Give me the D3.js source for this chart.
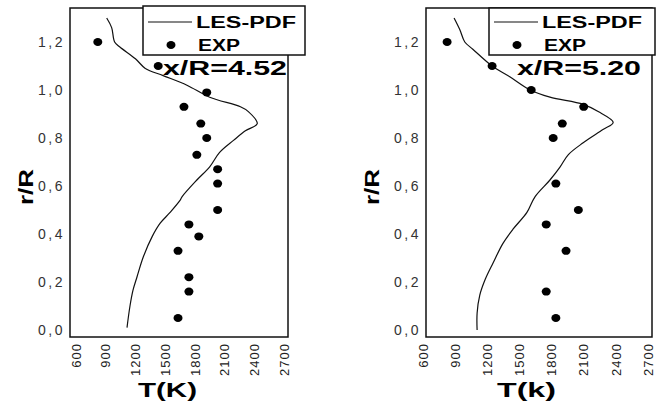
<!DOCTYPE html>
<html>
<head>
<meta charset="utf-8">
<script src="https://cdnjs.cloudflare.com/ajax/libs/d3/7.8.5/d3.min.js"></script>
<style>
    body { margin: 0; background: #fff; }
    svg { display: block; }
    text { font-family: "Liberation Sans", Arial, sans-serif; }
</style>
</head>
<body>
<div id="chart"></div>
<script>

// x/R = 4.52 panel
let les452R = [1.30, 1.26, 1.20, 1.18, 1.13, 1.09, 1.06, 1.02, 0.97, 0.93, 0.91, 0.86, 0.83, 0.79, 0.74, 0.68, 0.625, 0.555, 0.54, 0.49, 0.445, 0.39, 0.305, 0.22, 0.165, 0.10, 0.01];
let les452T = [910, 960, 990, 1040, 1200, 1300, 1480, 1720, 1950, 2260, 2340, 2430, 2310, 2190, 2050, 1950, 1820, 1670, 1650, 1550, 1450, 1370, 1280, 1215, 1175, 1145, 1115];
let exp452R = [1.20, 1.10, 0.99, 0.93, 0.86, 0.80, 0.73, 0.67, 0.61, 0.50, 0.44, 0.39, 0.33, 0.22, 0.16, 0.05];
let exp452T = [820, 1430, 1920, 1690, 1860, 1920, 1820, 2030, 2030, 2030, 1740, 1840, 1630, 1740, 1740, 1630];

// x/R = 5.20 panel
let les520R = [1.30, 1.25, 1.20, 1.17, 1.10, 1.055, 1.00, 0.97, 0.94, 0.91, 0.865, 0.835, 0.78, 0.73, 0.68, 0.625, 0.555, 0.49, 0.42, 0.36, 0.28, 0.21, 0.145, 0.07, 0.00];
let les520T = [890, 945, 990, 1065, 1245, 1410, 1600, 1785, 2095, 2235, 2375, 2280, 2095, 1955, 1880, 1785, 1645, 1570, 1440, 1345, 1255, 1180, 1130, 1105, 1105];
let exp520R = [1.20, 1.10, 1.00, 0.93, 0.86, 0.80, 0.61, 0.50, 0.44, 0.33, 0.16, 0.05];
let exp520T = [825, 1245, 1610, 2100, 1900, 1815, 1840, 2050, 1750, 1935, 1750, 1840];

// axis ticks
let tTicks = [600, 900, 1200, 1500, 1800, 2100, 2400, 2700];
let rTicks = [0.0, 0.2, 0.4, 0.6, 0.8, 1.0, 1.2];

let svg = d3.select("#chart").append("svg")
    .attr("width", 661)
    .attr("height", 408);

function drawPanel(p) {
    let g = svg.append("g");

    let x = d3.scaleLinear().domain([600, 2700]).range([p.x0, p.x1]);
    let y = d3.scaleLinear().domain([0, 1.2]).range([330, 42]);

    // frame
    g.append("rect")
        .attr("x", p.fl).attr("y", 8)
        .attr("width", p.fr - p.fl).attr("height", 329)
        .attr("fill", "none")
        .attr("stroke", "#111")
        .attr("stroke-width", 1.5);

    // y tick labels
    g.selectAll(".ylab")
        .data(rTicks)
        .enter().append("text")
        .attr("class", "ylab")
        .attr("x", p.fl - 5)
        .attr("y", d => y(d))
        .attr("dy", "0.36em")
        .attr("text-anchor", "end")
        .attr("font-size", 14)
        .attr("letter-spacing", 2.5)
        .attr("fill", "#333")
        .text(d => d3.format(".1f")(d).replace(".", ","));

    // x tick labels (rotated)
    g.selectAll(".xlab")
        .data(tTicks)
        .enter().append("text")
        .attr("class", "xlab")
        .attr("transform", d => "translate(" + x(d) + ",343) rotate(-90)")
        .attr("dy", "0.36em")
        .attr("text-anchor", "end")
        .attr("font-size", 13)
        .attr("letter-spacing", 1)
        .attr("fill", "#222")
        .text(d => d);

    // axis titles
    g.append("text")
        .attr("x", p.tx).attr("y", 397)
        .attr("font-size", 21).attr("font-weight", "bold")
        .attr("textLength", 59).attr("lengthAdjust", "spacingAndGlyphs")
        .text(p.xTitle);

    g.append("text")
        .attr("transform", "translate(" + p.rx + ",187) rotate(-90)")
        .attr("text-anchor", "middle")
        .attr("dy", "0.36em")
        .attr("font-size", 20).attr("font-weight", "bold")
        .attr("textLength", 36).attr("lengthAdjust", "spacingAndGlyphs")
        .text("r/R");

    // LES-PDF curve
    let line = d3.line()
        .x((d, i) => x(p.lesT[i]))
        .y(d => y(d))
        .curve(d3.curveCatmullRom.alpha(0.5));

    g.append("path")
        .datum(p.lesR)
        .attr("d", line)
        .attr("fill", "none")
        .attr("stroke", "#111")
        .attr("stroke-width", 1.2);

    // EXP points
    g.selectAll(".dot")
        .data(p.expR)
        .enter().append("ellipse")
        .attr("class", "dot")
        .attr("cx", (d, i) => x(p.expT[i]))
        .attr("cy", d => y(d))
        .attr("rx", 4.5)
        .attr("ry", 4)
        .attr("fill", "#000");

    // legend
    let lg = g.append("g").attr("transform", "translate(" + p.lx + ",0)");
    lg.append("rect")
        .attr("x", 0).attr("y", p.ly)
        .attr("width", p.lw).attr("height", 55 - p.ly)
        .attr("fill", "#fff")
        .attr("stroke", "#111")
        .attr("stroke-width", 1.5);
    lg.append("line")
        .attr("x1", 5).attr("x2", 49)
        .attr("y1", 22).attr("y2", 22)
        .attr("stroke", "#111").attr("stroke-width", 1.2);
    lg.append("text")
        .attr("x", 53).attr("y", 28)
        .attr("font-size", 16).attr("font-weight", "bold")
        .attr("textLength", 100).attr("lengthAdjust", "spacingAndGlyphs")
        .text("LES-PDF");
    lg.append("ellipse")
        .attr("cx", 28).attr("cy", 45)
        .attr("rx", 4.5).attr("ry", 4)
        .attr("fill", "#000");
    lg.append("text")
        .attr("x", 55).attr("y", 51)
        .attr("font-size", 16).attr("font-weight", "bold")
        .attr("textLength", 42).attr("lengthAdjust", "spacingAndGlyphs")
        .text("EXP");

    // station label
    g.append("text")
        .attr("x", p.ax).attr("y", 75)
        .attr("font-size", 20).attr("font-weight", "bold")
        .attr("textLength", 124).attr("lengthAdjust", "spacingAndGlyphs")
        .text(p.label);
}

drawPanel({
    x0: 76, x1: 284, fl: 70, fr: 288,
    lx: 143, lw: 162, ly: 6,
    ax: 163, tx: 138, rx: 26,
    xTitle: "T(K)", label: "x/R=4.52",
    lesR: les452R, lesT: les452T, expR: exp452R, expT: exp452T
});

drawPanel({
    x0: 423, x1: 648, fl: 426, fr: 652,
    lx: 489, lw: 166, ly: 8,
    ax: 517, tx: 497, rx: 372,
    xTitle: "T(k)", label: "x/R=5.20",
    lesR: les520R, lesT: les520T, expR: exp520R, expT: exp520T
});

</script>
</body>
</html>
